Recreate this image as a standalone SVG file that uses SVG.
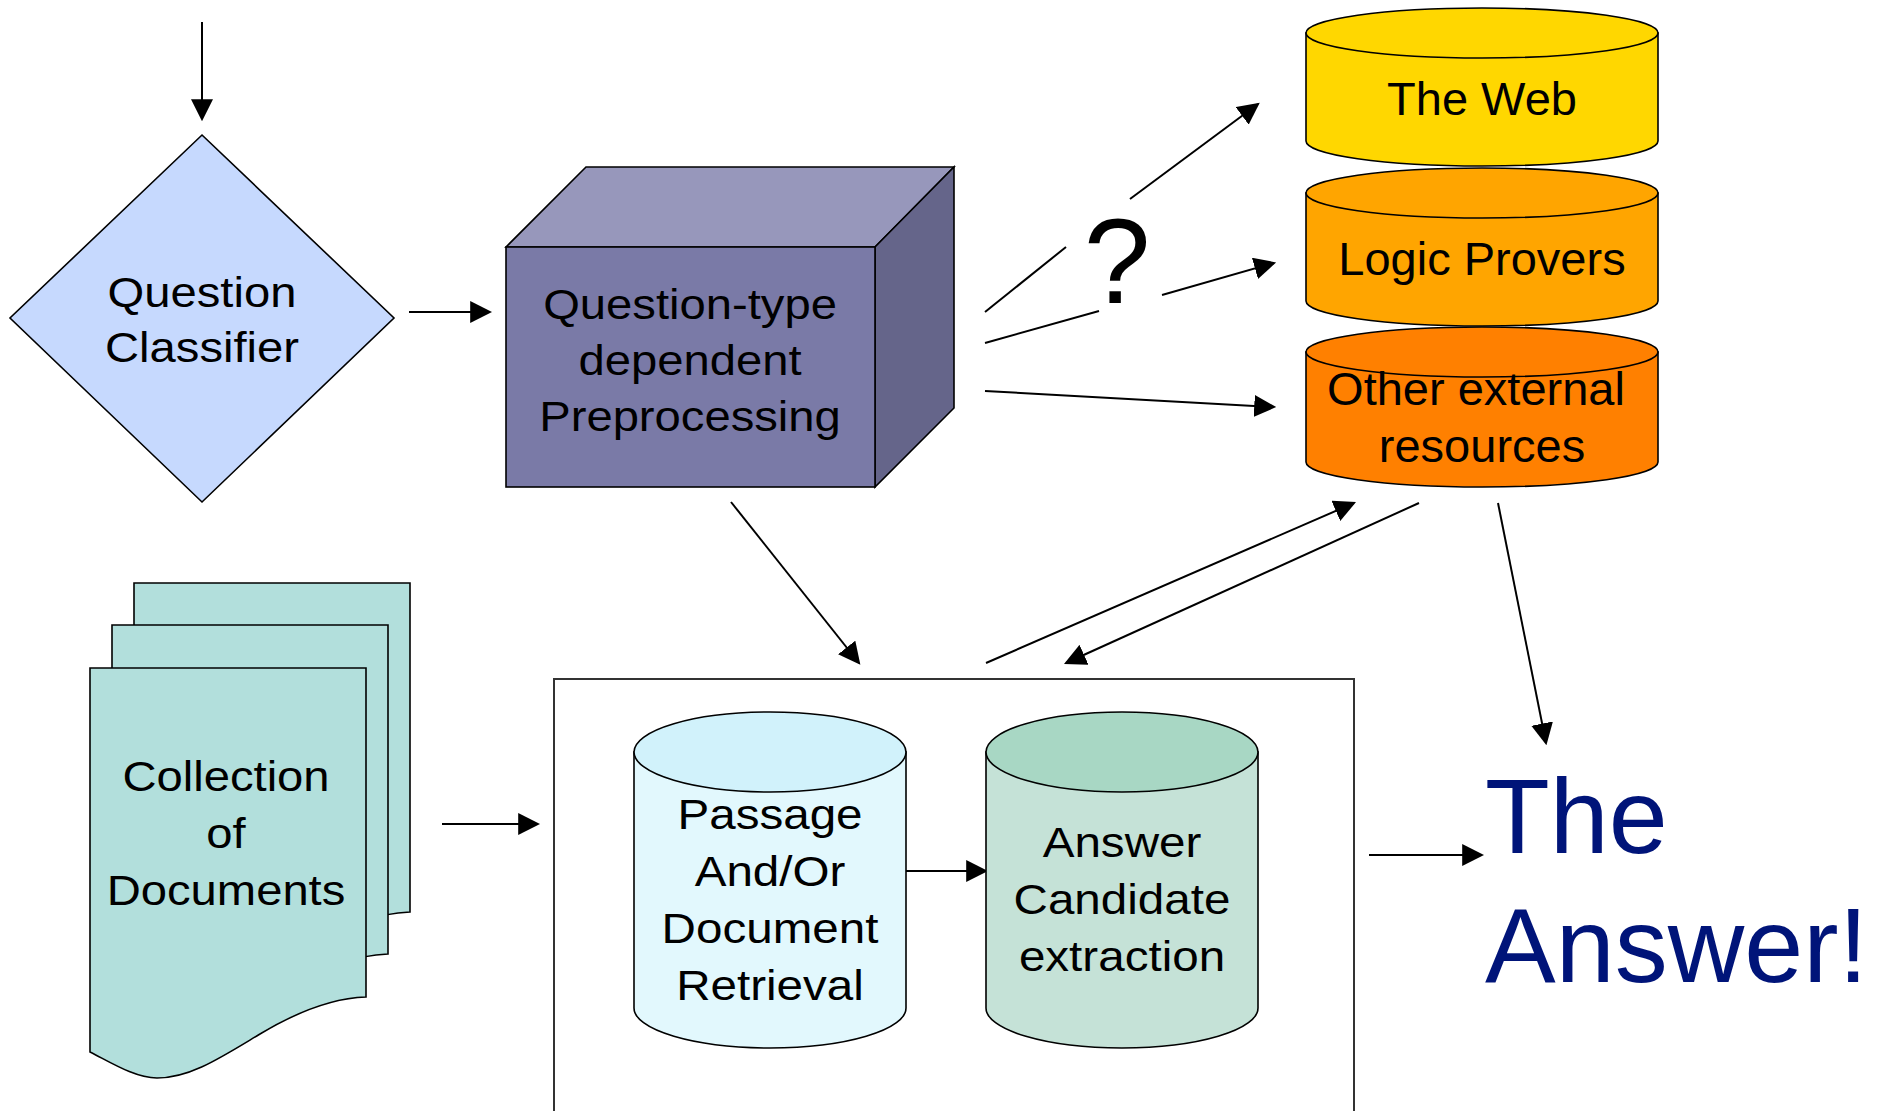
<svg xmlns="http://www.w3.org/2000/svg" width="1885" height="1111" viewBox="0 0 1885 1111">
<style>
.ln{stroke:#000;stroke-width:2;fill:none}
.arr{marker-end:url(#ah)}
.t{font-family:"Liberation Sans",Arial,Helvetica,sans-serif;font-size:42px;fill:#000;text-anchor:middle}
.tb{font-family:"Liberation Sans",Arial,Helvetica,sans-serif;font-size:47px;fill:#000;text-anchor:middle}
.sk{stroke:#000;stroke-width:1.6}
</style>
<defs>
<marker id="ah" markerUnits="userSpaceOnUse" markerWidth="22" markerHeight="22" viewBox="0 0 20 20" refX="18" refY="10" orient="auto">
<path d="M0,0 L20,10 L0,20 Z" fill="#000"/>
</marker>
<path id="page" d="M90,668 L366,668 L366,997 C335,998 300,1010 260,1034 C220,1058 190,1078 157,1078 C135,1078 110,1062 90,1052 Z"/>
</defs>
<rect width="1885" height="1111" fill="#fff"/>

<g id="connectors">
<line class="ln arr" x1="202" y1="22" x2="202" y2="119"/>
<line class="ln arr" x1="409" y1="312" x2="490" y2="312"/>
<line class="ln" x1="985" y1="312" x2="1066" y2="247"/>
<line class="ln arr" x1="1130" y1="199" x2="1258" y2="104"/>
<line class="ln" x1="985" y1="343" x2="1099" y2="311"/>
<line class="ln arr" x1="1162" y1="295" x2="1274" y2="263"/>
<line class="ln arr" x1="985" y1="391" x2="1274" y2="407"/>
<line class="ln arr" x1="731" y1="502" x2="859" y2="663"/>
<line class="ln arr" x1="986" y1="663" x2="1354" y2="503"/>
<line class="ln arr" x1="1419" y1="503" x2="1066" y2="663"/>
<line class="ln arr" x1="1498" y1="503" x2="1546" y2="743"/>
<line class="ln arr" x1="442" y1="824" x2="538" y2="824"/>
<line class="ln arr" x1="1369" y1="855" x2="1482" y2="855"/>
<line class="ln arr" x1="906" y1="871" x2="986" y2="871"/>
</g>

<g id="question-classifier">
<polygon points="202,135 394,318 202,502 10,318" fill="#C6D9FE" class="sk"/>
<g transform="translate(202 0) scale(1.124 1)">
<text class="t" x="0" y="307">Question</text>
<text class="t" x="0" y="362">Classifier</text>
</g>
</g>

<g id="preprocessing">
<polygon points="506,247 586,167 954,167 875,247" fill="#9797BB" class="sk"/>
<polygon points="875,247 954,167 954,408 875,487" fill="#65658A" class="sk"/>
<rect x="506" y="247" width="369" height="240" fill="#7A7AA7" class="sk"/>
<g transform="translate(690 0) scale(1.124 1)">
<text class="t" x="0" y="319">Question-type</text>
<text class="t" x="0" y="375">dependent</text>
<text class="t" x="0" y="431">Preprocessing</text>
</g>
</g>

<text id="question-mark" x="1117" y="303" font-family="Liberation Sans, Arial, sans-serif" font-size="120" text-anchor="middle" fill="#000">?</text>

<g id="the-web">
<path d="M1306,33 L1306,141 A176,25 0 0 0 1658,141 L1658,33 Z" fill="#FFD700" class="sk"/>
<ellipse cx="1482" cy="33" rx="176" ry="25" fill="#FFD700" class="sk"/>
<text class="tb" x="1482" y="115">The Web</text>
</g>

<g id="logic-provers">
<path d="M1306,193 L1306,301 A176,25 0 0 0 1658,301 L1658,193 Z" fill="#FFA500" class="sk"/>
<ellipse cx="1482" cy="193" rx="176" ry="25" fill="#FFA500" class="sk"/>
<text class="tb" x="1482" y="275">Logic Provers</text>
</g>

<g id="other-resources">
<path d="M1306,352 L1306,462 A176,25 0 0 0 1658,462 L1658,352 Z" fill="#FF8000" class="sk"/>
<ellipse cx="1482" cy="352" rx="176" ry="25" fill="#FF8000" class="sk"/>
<text class="tb" x="1476" y="405">Other external</text>
<text class="tb" x="1482" y="462">resources</text>
</g>

<g id="collection-of-documents">
<use href="#page" transform="translate(44 -85)" fill="#B2DFDC" class="sk"/>
<use href="#page" transform="translate(22 -43)" fill="#B2DFDC" class="sk"/>
<use href="#page" fill="#B2DFDC" class="sk"/>
<g transform="translate(226 0) scale(1.124 1)">
<text class="t" x="0" y="791">Collection</text>
<text class="t" x="0" y="848">of</text>
<text class="t" x="0" y="905">Documents</text>
</g>
</g>

<g id="processing-container">
<rect x="554" y="679" width="800" height="460" fill="none" stroke="#333" stroke-width="2"/>
</g>

<g id="passage-retrieval">
<path d="M634,752 L634,1008 A136,40 0 0 0 906,1008 L906,752 Z" fill="#E2F8FD" class="sk"/>
<ellipse cx="770" cy="752" rx="136" ry="40" fill="#D1F2FB" class="sk"/>
<g transform="translate(770 0) scale(1.133 1)">
<text class="t" x="0" y="829">Passage</text>
<text class="t" x="0" y="886">And/Or</text>
<text class="t" x="0" y="943">Document</text>
<text class="t" x="0" y="1000">Retrieval</text>
</g>
</g>

<g id="answer-extraction">
<path d="M986,752 L986,1008 A136,40 0 0 0 1258,1008 L1258,752 Z" fill="#C5E2D7" class="sk"/>
<ellipse cx="1122" cy="752" rx="136" ry="40" fill="#A8D7C4" class="sk"/>
<g transform="translate(1122 0) scale(1.133 1)">
<text class="t" x="0" y="857">Answer</text>
<text class="t" x="0" y="914">Candidate</text>
<text class="t" x="0" y="971">extraction</text>
</g>
</g>

<g id="the-answer">
<text x="1485" y="853" font-family="Liberation Sans, Arial, sans-serif" font-size="106" fill="#001479">The</text>
<text x="1485" y="982" font-family="Liberation Sans, Arial, sans-serif" font-size="106" fill="#001479">Answer!</text>
</g>
</svg>
